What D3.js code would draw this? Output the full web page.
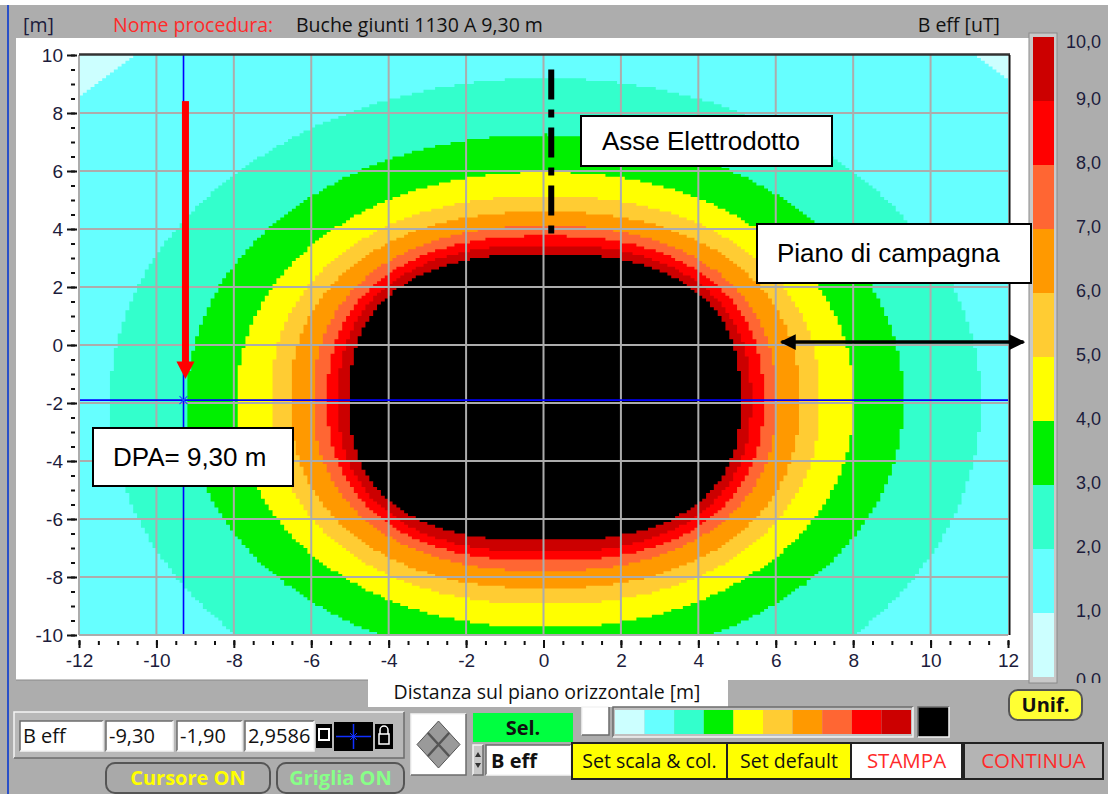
<!DOCTYPE html>
<html><head><meta charset="utf-8">
<script src="https://cdn.jsdelivr.net/npm/d3@7"></script>
<style>
html,body{margin:0;padding:0;background:#fff;overflow:hidden}
svg{display:block}
</style>
</head><body>
<svg id="chart" width="1108" height="794"></svg>
<script>
// ---- field levels (uT) and band colours: below 1, 1-2, ..., 9-10, above 10
const levelValues = [1, 2, 3, 4, 5, 6, 7, 8, 9, 10];
const bandColors = ['#ccffff', '#66ffff', '#33ffcc', '#00f000', '#ffff00', '#ffcc33',
                    '#ff9900', '#ff6633', '#ff0000', '#cc0000', '#000000'];

// iso-line extents in metres, one entry per level above
const contourLeft     = [-16.0, -11.20, -9.20, -7.92, -7.05, -6.54, -5.94, -5.58, -5.30, -5.01];
const contourRight    = [ 16.6,  11.30,  9.30,  8.02,  7.15,  6.62,  6.02,  5.68,  5.36,  5.09];
const contourTop      = [ 14.0,   9.20,  7.25,  5.97,  5.14,  4.60,  4.10,  3.76,  3.45,  3.14];
const contourBottom   = [-18.0, -13.40, -10.95, -9.75, -8.95, -8.40, -7.80, -7.45, -7.15, -6.75];
const contourExponent = [ 2.0,   2.0,   2.05,  2.1,   2.2,   2.25,  2.3,   2.35,  2.4,   2.5];
const widestY = -1.9;       // height of the widest section of every iso-line
const cellSize = 0.1;       // calculation grid step [m]

// axes
const xTicks = [-12, -10, -8, -6, -4, -2, 0, 2, 4, 6, 8, 10, 12];
const yTicks = [-10, -8, -6, -4, -2, 0, 2, 4, 6, 8, 10];
const xMinorTicks = d3.range(-12, 12.01, 0.5);
const yMinorTicks = d3.range(-10, 10.01, 0.5);

// colour bar
const colorbarValues = [0, 1, 2, 3, 4, 5, 6, 7, 8, 9, 10];
const colorbarLabels = ['0,0', '1,0', '2,0', '3,0', '4,0', '5,0', '6,0', '7,0', '8,0', '9,0', '10,0'];

// cursor read-out
const cursorX = -9.30, cursorY = -1.90;
const cursorReadout = ['B eff', '-9,30', '-1,90', '2,9586'];
const dpaLabel = 'DPA= 9,30 m';
const lineAxisX = 0.2;           // power line axis
const groundArrow = [6.15, 12.4, 0.1];

const svg = d3.select('#chart');
const W = 1108, H = 794;
const grey = '#adadad';
const ink = '#1c1c3c';
const uiFont = '"Open Sans","Noto Sans",sans-serif';
const arial = '"Liberation Sans",Arial,sans-serif';

// window background
svg.append('rect').attr('width', W).attr('height', H).attr('fill', '#fff');
svg.append('rect').attr('x', 0).attr('y', 5).attr('width', W).attr('height', H - 5).attr('fill', grey);
svg.append('rect').attr('x', 7).attr('y', 5).attr('width', 2).attr('height', H - 5).attr('fill', '#2a50c8');
svg.append('rect').attr('x', 16).attr('y', 38).attr('width', 1013).attr('height', 642).attr('fill', '#fff');
svg.append('line').attr('x1', 16).attr('x2', 368).attr('y1', 680).attr('y2', 680).attr('stroke', '#8a8a8a');

// header texts
function uiText(g, x0, y0, str, color, size, anchor, weight) {
  return g.append('text').attr('x', x0).attr('y', y0).attr('fill', color)
    .attr('text-anchor', anchor || 'start')
    .style('font-family', uiFont).style('font-size', (size || 19.5) + 'px')
    .style('font-weight', weight || 400).text(str);
}
const header = svg.append('g');
uiText(header, 23, 32, '[m]', ink);
uiText(header, 113, 32, 'Nome procedura:', '#ff2a2a');
uiText(header, 296, 32, 'Buche giunti 1130 A 9,30 m', '#111');
uiText(header, 1000, 32, 'B eff [uT]', '#111', 19.5, 'end');

// scales
const x = d3.scaleLinear().domain([-12, 12]).range([79, 1008]);
const y = d3.scaleLinear().domain([-10, 10]).range([635, 55]);

svg.append('clipPath').attr('id', 'plotClip').append('rect')
  .attr('x', x(-12)).attr('y', y(10)).attr('width', x(12) - x(-12)).attr('height', y(-10) - y(10));

const plot = svg.append('g').attr('clip-path', 'url(#plotClip)');
plot.append('rect').attr('x', x(-12)).attr('y', y(10)).attr('width', x(12) - x(-12))
  .attr('height', y(-10) - y(10)).attr('fill', bandColors[0]);

// iso-line region on the calculation grid: a four-quadrant superellipse,
// sampled row by row and snapped to the grid cells (stepped outline)
function isoRegion(i) {
  const cx = (contourLeft[i] + contourRight[i]) / 2;
  const p = contourExponent[i];
  const aL = cx - contourLeft[i], aR = contourRight[i] - cx;
  const snap = v => Math.round(v / cellSize) * cellSize;
  const rows = [];
  d3.range(-10, 10, cellSize).forEach(y0 => {
    const yc = y0 + cellSize / 2;
    const dy = yc - widestY;
    const b = dy >= 0 ? contourTop[i] - widestY : widestY - contourBottom[i];
    if (Math.abs(dy) >= b) return;
    const t = Math.pow(1 - Math.pow(Math.abs(dy) / b, p), 1 / p);
    const xl = snap(cx - aL * t), xr = snap(cx + aR * t);
    if (xr > xl) rows.push({ y0: y0, y1: y0 + cellSize, xl: xl, xr: xr });
  });
  if (!rows.length) return '';
  rows.reverse(); // top to bottom
  const pts = [];
  rows.forEach(r => { pts.push([r.xr, r.y1], [r.xr, r.y0]); });
  rows.slice().reverse().forEach(r => { pts.push([r.xl, r.y0], [r.xl, r.y1]); });
  return d3.line().x(d => x(d[0])).y(d => y(d[1])).curve(d3.curveLinearClosed)(pts);
}
plot.selectAll('path.band').data(levelValues).join('path').attr('class', 'band')
  .attr('d', (d, i) => isoRegion(i)).attr('fill', (d, i) => bandColors[i + 1]);

// grid
const gridColor = '#acacac';
plot.selectAll('line.vg').data(xTicks.filter(v => v > -12 && v < 12)).join('line').attr('class', 'vg')
  .attr('x1', d => x(d)).attr('x2', d => x(d)).attr('y1', y(10)).attr('y2', y(-10))
  .attr('stroke', gridColor).attr('stroke-width', 2);
plot.selectAll('line.hg').data(yTicks.filter(v => v > -10 && v < 10)).join('line').attr('class', 'hg')
  .attr('x1', x(-12)).attr('x2', x(12)).attr('y1', d => y(d)).attr('y2', d => y(d))
  .attr('stroke', gridColor).attr('stroke-width', 2);

// frame
svg.append('line').attr('x1', x(-12)).attr('x2', x(-12)).attr('y1', y(10)).attr('y2', y(-10)).attr('stroke', gridColor).attr('stroke-width', 2);
svg.append('line').attr('x1', x(-12)).attr('x2', x(12)).attr('y1', y(-10)).attr('y2', y(-10)).attr('stroke', gridColor).attr('stroke-width', 2);
svg.append('line').attr('x1', x(-12)).attr('x2', x(12) + 2).attr('y1', y(10) - 0.5).attr('y2', y(10) - 0.5).attr('stroke', '#333').attr('stroke-width', 2.5);
svg.append('line').attr('x1', x(12) + 1.5).attr('x2', x(12) + 1.5).attr('y1', y(10)).attr('y2', y(-10)).attr('stroke', '#111').attr('stroke-width', 2);

// cursor cross
plot.append('line').attr('x1', x(cursorX)).attr('x2', x(cursorX)).attr('y1', y(10)).attr('y2', y(-10))
  .attr('stroke', '#0000ff').attr('stroke-width', 1.6);
plot.append('line').attr('x1', x(-12)).attr('x2', x(12)).attr('y1', y(cursorY)).attr('y2', y(cursorY))
  .attr('stroke', '#0000ff').attr('stroke-width', 1.6);
plot.append('path').attr('transform', `translate(${x(cursorX)},${y(cursorY)})`)
  .attr('d', 'M-4,-4L4,4M-4,4L4,-4').attr('stroke', '#2050ff').attr('stroke-width', 1.2);

// axes
function styleAxis(g) {
  g.select('.domain').remove();
  g.selectAll('.tick line').attr('stroke', '#111').attr('stroke-width', 2);
  g.selectAll('.tick text').attr('fill', ink).style('font-family', arial).style('font-size', '19px');
}
svg.append('g').attr('transform', `translate(${x(-12) - 2},0)`)
  .call(d3.axisLeft(y).tickValues(yTicks).tickSize(10).tickPadding(4).tickFormat(d => String(d)))
  .call(styleAxis);
svg.append('g').attr('transform', `translate(${x(-12) - 4},0)`)
  .call(d3.axisLeft(y).tickValues(yMinorTicks).tickSize(4).tickFormat(''))
  .call(styleAxis);
svg.append('g').attr('transform', `translate(0,${y(-10) + 5})`)
  .call(d3.axisBottom(x).tickValues(xTicks).tickSize(8).tickPadding(6).tickFormat(d => String(d)))
  .call(styleAxis);
svg.append('g').attr('transform', `translate(0,${y(-10) + 6})`)
  .call(d3.axisBottom(x).tickValues(xMinorTicks).tickSize(4).tickFormat(''))
  .call(styleAxis);

// axis title
svg.append('rect').attr('x', 368).attr('y', 678).attr('width', 360).attr('height', 29).attr('fill', '#fff');
uiText(svg, 547, 699, 'Distanza sul piano orizzontale [m]', '#111', 19.5, 'middle');

// colour bar
const cb = d3.scaleLinear().domain([0, 10]).range([677, 37]);
svg.append('rect').attr('x', 1029).attr('y', 33).attr('width', 28).attr('height', 650).attr('fill', '#c9c9c9')
  .attr('stroke', '#8a8a8a').attr('stroke-width', 1);
svg.selectAll('rect.cbar').data(colorbarValues.slice(0, 10)).join('rect').attr('class', 'cbar')
  .attr('x', 1033).attr('width', 21).attr('y', d => cb(d + 1)).attr('height', d => cb(d) - cb(d + 1))
  .attr('fill', (d, i) => bandColors[i]);
svg.append('clipPath').attr('id', 'cbClip').append('rect').attr('x', 1058).attr('y', 30).attr('width', 50).attr('height', 653);
svg.append('g').attr('clip-path', 'url(#cbClip)').selectAll('text').data(colorbarValues).join('text')
  .attr('x', 1101).attr('y', d => d === 0 ? cb(d) + 3 : Math.max(cb(d) - 2, 42)).attr('dy', '0.35em').attr('text-anchor', 'end')
  .attr('fill', ink).style('font-family', arial).style('font-size', '18px')
  .text((d, i) => colorbarLabels[i]);

// annotations
const ann = svg.append('g');
function annText(x0, y0, str) {
  ann.append('text').attr('x', x0).attr('y', y0).attr('fill', '#000')
    .style('font-family', arial).style('font-size', '26px').text(str);
}
ann.append('line').attr('x1', x(lineAxisX)).attr('x2', x(lineAxisX)).attr('y1', y(9.5)).attr('y2', y(3.55))
  .attr('stroke', '#000').attr('stroke-width', 6).attr('stroke-dasharray', '30,10,8,10');
ann.append('rect').attr('x', 581).attr('y', 116).attr('width', 251).attr('height', 50).attr('fill', '#fff').attr('stroke', '#000').attr('stroke-width', 2);
annText(602, 150, 'Asse Elettrodotto');
ann.append('rect').attr('x', 757).attr('y', 224).attr('width', 274).attr('height', 59).attr('fill', '#fff').attr('stroke', '#000').attr('stroke-width', 2);
annText(777, 262, 'Piano di campagna');
ann.append('rect').attr('x', 93).attr('y', 428).attr('width', 200).attr('height', 58).attr('fill', '#fff').attr('stroke', '#000').attr('stroke-width', 2);
annText(113, 466, dpaLabel);

svg.append('defs').html(
  '<marker id="ah" viewBox="0 0 10 10" refX="9" refY="5" markerWidth="4.5" markerHeight="4.5" orient="auto-start-reverse"><path d="M0,0L10,5L0,10z" fill="#000"/></marker>');
ann.append('line').attr('x1', x(groundArrow[0])).attr('x2', x(groundArrow[1])).attr('y1', y(groundArrow[2])).attr('y2', y(groundArrow[2]))
  .attr('stroke', '#000').attr('stroke-width', 3.5).attr('marker-start', 'url(#ah)').attr('marker-end', 'url(#ah)');
// red arrow towards the 3 uT iso-line
ann.append('rect').attr('x', x(-9.25) - 3.5).attr('y', y(8.41)).attr('width', 7).attr('height', y(-0.6) - y(8.41)).attr('fill', '#ff0000');
ann.append('path').attr('d', `M${x(-9.25) - 9},${y(-0.57)}L${x(-9.25) + 9},${y(-0.57)}L${x(-9.25)},${y(-1.17)}Z`).attr('fill', '#ff0000');

// ---- control panel
function bevel(g, x0, y0, w, h, fill, raised) {
  g.append('rect').attr('x', x0).attr('y', y0).attr('width', w).attr('height', h).attr('fill', fill);
  const lt = raised ? '#f4f4f4' : '#6c6c6c', rb = raised ? '#6c6c6c' : '#f4f4f4';
  g.append('path').attr('d', `M${x0},${y0 + h}V${y0}H${x0 + w}`).attr('fill', 'none').attr('stroke', lt).attr('stroke-width', 1.5);
  g.append('path').attr('d', `M${x0 + w},${y0}V${y0 + h}H${x0}`).attr('fill', 'none').attr('stroke', rb).attr('stroke-width', 1.5);
}
const ctl = svg.append('g');
bevel(ctl, 14, 712, 390, 46, '#b8b8b8', true);
const boxes = [[20, 83], [106, 67], [177, 65], [245, 69]];
boxes.forEach((b, i) => {
  bevel(ctl, b[0], 721, b[1], 30, '#fff', false);
  uiText(ctl, b[0] + 3, 743, cursorReadout[i], '#111', 20);
});
ctl.append('rect').attr('x', 316).attr('y', 724).attr('width', 16).attr('height', 24).attr('fill', '#000');
ctl.append('rect').attr('x', 319).attr('y', 729).attr('width', 10).attr('height', 11).attr('fill', '#000').attr('stroke', '#fff').attr('stroke-width', 2);
ctl.append('rect').attr('x', 334).attr('y', 722).attr('width', 39).attr('height', 29).attr('fill', '#000');
ctl.append('path').attr('d', 'M336,736.5H371M353.5,724V749').attr('stroke', '#1030ff').attr('stroke-width', 1.5);
ctl.append('path').attr('d', 'M350,733L357,740M350,740L357,733').attr('stroke', '#1030ff').attr('stroke-width', 1);
ctl.append('rect').attr('x', 375).attr('y', 724).attr('width', 18).attr('height', 25).attr('fill', '#000');
ctl.append('path').attr('d', 'M380,734V730A4,4 0 0 1 388,730V734').attr('fill', 'none').attr('stroke', '#fff').attr('stroke-width', 1.5);
ctl.append('rect').attr('x', 379).attr('y', 734).attr('width', 10).attr('height', 10).attr('fill', 'none').attr('stroke', '#fff').attr('stroke-width', 1.5);

function roundButton(x0, y0, w, h, fill, label, color) {
  ctl.append('rect').attr('x', x0).attr('y', y0).attr('width', w).attr('height', h).attr('rx', 9)
    .attr('fill', fill).attr('stroke', '#555').attr('stroke-width', 2);
  uiText(ctl, x0 + w / 2, y0 + h / 2, label, color, 20, 'middle', 700).attr('dy', '0.36em');
}
roundButton(106, 763, 164, 30, '#a9a9a9', 'Cursore ON', '#ffff00');
roundButton(277, 763, 127, 30, '#a9a9a9', 'Griglia ON', '#88ff88');
roundButton(1009, 690, 73, 30, '#ffff33', 'Unif.', '#111');

// navigation pad
bevel(ctl, 411, 714, 55, 61, '#fff', true);
ctl.append('path').attr('d', 'M438.5,721L460,744.5L438.5,768L417,744.5Z').attr('fill', '#9a9a9a').attr('stroke', '#555');
ctl.append('path').attr('d', 'M427.75,732.75L449.25,756.25M449.25,732.75L427.75,756.25').attr('stroke', '#555').attr('stroke-width', 2.5);

// selector
ctl.append('rect').attr('x', 473).attr('y', 713).attr('width', 100).attr('height', 29).attr('fill', '#00ff40');
uiText(ctl, 523, 735, 'Sel.', '#111', 20, 'middle', 700);
bevel(ctl, 473, 745, 10, 30, '#c8c8c8', true);
ctl.append('path').attr('d', 'M475,757L478,752L481,757ZM475,763L478,768L481,763Z').attr('fill', '#333');
bevel(ctl, 486, 745, 85, 30, '#fff', false);
uiText(ctl, 491, 768, 'B eff', '#111', 20, 'start', 700);

// colour strip
bevel(ctl, 582, 707, 27, 28, '#fff', true);
bevel(ctl, 613, 707, 300, 30, '#c0c0c0', false);
const strip = d3.scaleBand().domain(d3.range(10)).range([615, 911]);
ctl.selectAll('rect.sw').data(d3.range(10)).join('rect').attr('class', 'sw')
  .attr('x', d => strip(d)).attr('width', strip.bandwidth()).attr('y', 710).attr('height', 24)
  .attr('fill', d => bandColors[d]);
bevel(ctl, 918, 707, 31, 30, '#000', false);

// command buttons
function flatButton(x0, w, fill, label, color, size) {
  ctl.append('rect').attr('x', x0).attr('y', 743).attr('width', w).attr('height', 36)
    .attr('fill', fill).attr('stroke', '#222').attr('stroke-width', 2);
  uiText(ctl, x0 + w / 2, 761, label, color, size, 'middle').attr('dy', '0.36em');
}
flatButton(572, 155, '#ffff00', 'Set scala & col.', '#111', 19.5);
flatButton(727, 124, '#ffff00', 'Set default', '#111', 19.5);
flatButton(851, 111, '#fff', 'STAMPA', '#ff2a2a', 20.5);
flatButton(964, 139, '#b4b4b4', 'CONTINUA', '#ff2a2a', 20.5);
</script>
</body></html>
